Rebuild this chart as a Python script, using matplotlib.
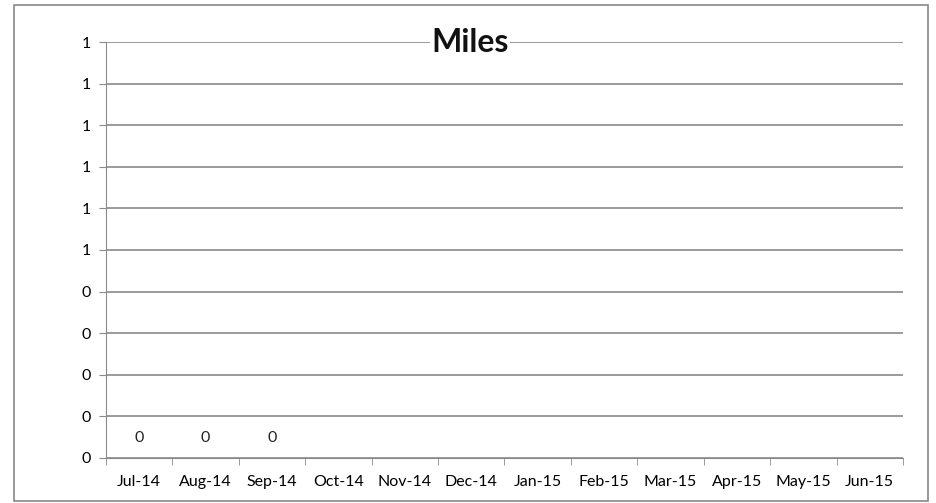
import matplotlib.pyplot as plt
import numpy as np
from matplotlib.ticker import FuncFormatter, FixedLocator
from matplotlib.patches import Rectangle

months = ['Jul-14', 'Aug-14', 'Sep-14', 'Oct-14', 'Nov-14', 'Dec-14',
          'Jan-15', 'Feb-15', 'Mar-15', 'Apr-15', 'May-15', 'Jun-15']
miles = [0, 0, 0, np.nan, np.nan, np.nan, np.nan, np.nan, np.nan, np.nan, np.nan, np.nan]
y_ticks = [0.0, 0.1, 0.2, 0.3, 0.4, 0.5, 0.6, 0.7, 0.8, 0.9, 1.0]

plt.rcParams['font.family'] = ['Lato', 'DejaVu Sans']
grid_col = '#8a8a8a'

fig = plt.figure(figsize=(9.36, 5.03), dpi=100)
fig.patches.append(Rectangle((0.015, 0.004), 0.9765, 0.986, transform=fig.transFigure,
                             fill=False, edgecolor='#888888', lw=1.2))

ax = fig.add_axes([0.1132, 0.0895, 0.8515, 0.827])
x = np.arange(len(months))
ax.set_xlim(-0.5, len(months) - 0.5)
ax.set_ylim(0, 1)

# columns (zero height) with data labels
vals = np.array(miles, dtype=float)
ax.bar(x, np.nan_to_num(vals), width=0.6, color='#4f81bd')
for xi, v in zip(x, vals):
    if not np.isnan(v):
        ax.annotate(f'{v:.0f}', (xi, v), xytext=(0, 9), textcoords='offset points',
                    ha='center', va='bottom', fontsize=11.5, color='#222222')

# excel-style "0" number format
ax.yaxis.set_major_locator(FixedLocator(y_ticks))
ax.yaxis.set_major_formatter(FuncFormatter(lambda v, p: f'{int(np.floor(v + 0.5 + 1e-9))}'))
ax.grid(axis='y', color=grid_col, lw=1.2)
ax.set_axisbelow(True)

ax.set_xticks(x)
ax.set_xticklabels(months)
ax.set_xticks(np.arange(-0.5, len(months)), minor=True)
ax.tick_params(axis='x', which='major', length=0, pad=12, labelsize=11.5)
ax.tick_params(axis='x', which='minor', length=5, color=grid_col, direction='out')
ax.tick_params(axis='y', length=5, color=grid_col, pad=6, labelsize=11.5)

for s in ['top', 'right']:
    ax.spines[s].set_visible(False)
ax.spines['left'].set_color(grid_col)
ax.spines['bottom'].set_color(grid_col)

fig.text(0.502, 1 - 42 / 503, 'Miles', ha='center', va='center',
         fontsize=23, fontweight='bold', color='#111111',
         bbox=dict(facecolor='white', edgecolor='none', pad=1))

fig.savefig('out.png', dpi=100)
